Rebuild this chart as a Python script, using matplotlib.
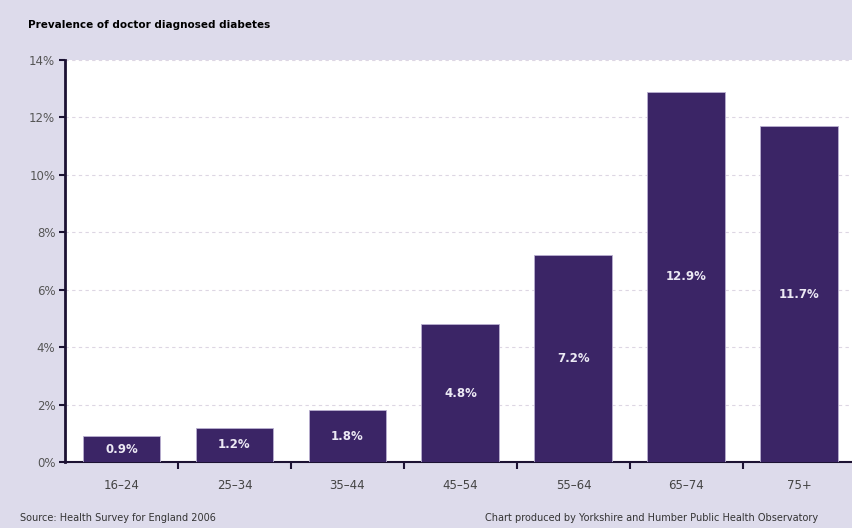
import matplotlib
matplotlib.use("Agg")
import matplotlib.pyplot as plt
from matplotlib.ticker import FixedLocator

# Prevalence of doctor diagnosed diabetes by age group
age_groups = ["16–24", "25–34", "35–44", "45–54", "55–64", "65–74", "75+"]
prevalence = [0.9, 1.2, 1.8, 4.8, 7.2, 12.9, 11.7]
y_ticks = [0, 2, 4, 6, 8, 10, 12, 14]

bg = "#dddbeb"
bar_col = "#3b2566"
axis_col = "#1c1233"

fig = plt.figure(figsize=(8.52, 5.28), dpi=100, facecolor=bg)
ax = fig.add_axes([65 / 852, 66 / 528, 787 / 852, 402 / 528])
ax.set_facecolor("white")

x = range(len(age_groups))
ax.bar(x, prevalence, width=0.69, color=bar_col, edgecolor="#b9b0d0",
       linewidth=0.6, zorder=3)

# value labels centred inside the bars
for i, v in zip(x, prevalence):
    ax.text(i, v / 2, f"{v:.1f}%", ha="center", va="center", color="#ece9f4",
            fontsize=8.5, fontweight="bold", zorder=4)

ax.set_xlim(-0.5, 6.465)
ax.set_ylim(0, 14)
ax.set_yticks(y_ticks)
ax.set_yticklabels([f"{t}%" for t in y_ticks])
ax.set_xticks(list(x))
ax.set_xticklabels(age_groups)
ax.xaxis.set_minor_locator(FixedLocator([i + 0.5 for i in range(6)]))

ax.grid(axis="y", color="#ddd6e3", linestyle=(0, (3, 3)), linewidth=0.8, zorder=0)

for side in ["top", "right"]:
    ax.spines[side].set_visible(False)
ax.spines["left"].set_color(axis_col)
ax.spines["left"].set_linewidth(2)
ax.spines["bottom"].set_color(axis_col)
ax.spines["bottom"].set_linewidth(1.5)

ax.tick_params(axis="x", which="major", length=0, pad=12, labelsize=8.5,
               labelcolor="#444444")
ax.tick_params(axis="x", which="minor", length=5, width=1.5, color=axis_col,
               direction="out")
ax.tick_params(axis="y", length=4, width=1.5, color=axis_col, pad=3,
               labelsize=8.5, labelcolor="#555555")

fig.text(28 / 852, 1 - 25 / 528, "Prevalence of doctor diagnosed diabetes",
         fontsize=7.5, fontweight="bold", color="black", va="center")
fig.text(20 / 852, 1 - 518 / 528, "Source: Health Survey for England 2006",
         fontsize=7, color="#333333", va="center")
fig.text(818 / 852, 1 - 518 / 528,
         "Chart produced by Yorkshire and Humber Public Health Observatory",
         fontsize=7, color="#333333", va="center", ha="right")

fig.savefig("out.png", dpi=100, facecolor=bg)
